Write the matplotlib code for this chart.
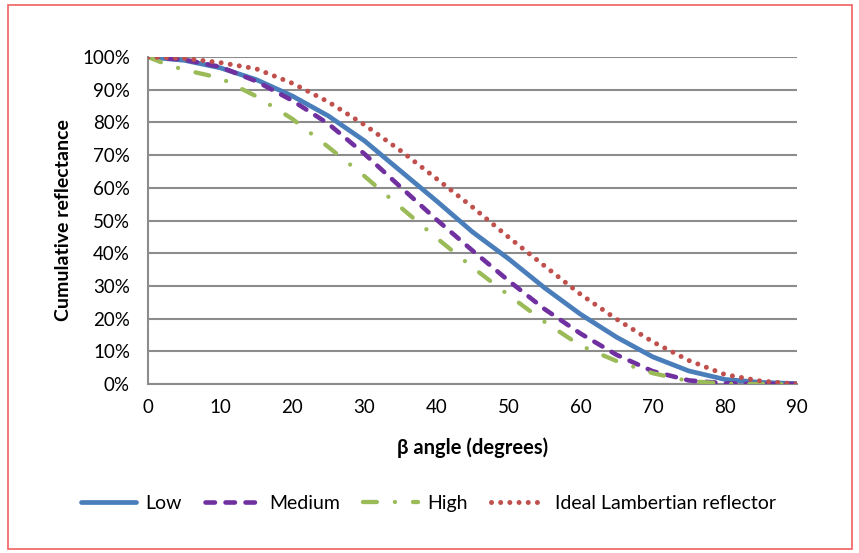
import matplotlib
matplotlib.use("Agg")
import matplotlib.pyplot as plt
from matplotlib.patches import Rectangle
from matplotlib.ticker import PercentFormatter

plt.rcParams["font.family"] = ["Lato", "DejaVu Sans"]
plt.rcParams["lines.scale_dashes"] = False

# Angle grid (degrees) and cumulative reflectance (%) for each surface
beta_deg = [0, 5, 10, 15, 20, 25, 30, 35, 40, 45, 50, 55, 60, 65, 70, 75, 80, 85, 90]
low = [100, 99.0, 96.7, 93.1, 88.1, 82.0, 74.4, 65.2, 56.0, 46.5, 38.3, 29.4,
       21.3, 14.3, 8.3, 4.0, 1.4, 0.5, 0.1]
medium = [100, 99.2, 97.0, 92.6, 86.7, 79.6, 70.4, 60.3, 50.3, 40.8, 31.6, 22.9,
          15.4, 8.9, 3.9, 1.1, 0.2, 0.0, 0.0]
high_beta = [0, 2.5, 5, 10, 15, 20, 25, 30, 35, 40, 45, 50, 55, 60, 65, 70, 75, 80, 85, 90]
high = [100, 97.8, 96.1, 93.6, 88.0, 81.1, 72.5, 63.6, 54.1, 44.7, 35.7, 27.2,
        19.0, 11.7, 7.0, 3.3, 0.9, 0.1, 0.0, 0.0]
lambertian = [100, 99.6, 98.3, 96.4, 92.0, 86.3, 79.3, 71.4, 62.8, 54.1, 44.9, 36.1,
              27.4, 19.8, 12.9, 7.2, 2.9, 0.9, 0.0]

x_ticks = list(range(0, 91, 10))
y_ticks = list(range(0, 101, 10))

fig = plt.figure(figsize=(8.59, 5.53), dpi=100)
ax = fig.add_axes([0.1723, 0.3056, 0.7555, 0.5913])

grid_c = "#8c8c8c"
ax.plot(beta_deg, low, color="#4a7ebb", lw=3.4, solid_capstyle="round", label="Low", zorder=3)
ax.plot(beta_deg, medium, color="#7030a0", lw=3.3, dashes=(6.8, 7.6),
        dash_capstyle="round", label="Medium", zorder=4)
ax.plot(high_beta, high, color="#9bbb59", lw=3.1, dashes=(10, 13, 0.01, 13),
        dash_capstyle="round", label="High", zorder=5)
ax.plot(beta_deg, lambertian, color="#c0504d", lw=3.6, dashes=(0.01, 6.6),
        dash_capstyle="round", label="Ideal Lambertian reflector", zorder=6)

ax.set_xlim(0, 90)
ax.set_ylim(0, 100)
ax.set_xticks(x_ticks)
ax.set_yticks(y_ticks)
ax.yaxis.set_major_formatter(PercentFormatter(decimals=0))
ax.tick_params(axis="both", length=0, labelsize=13.5, colors="black")
ax.tick_params(axis="y", pad=13)
ax.tick_params(axis="x", pad=11)

ax.grid(axis="y", color=grid_c, lw=1.5, zorder=1)
ax.set_axisbelow(True)
for side in ("top", "right"):
    ax.spines[side].set_visible(False)
for side in ("left", "bottom"):
    ax.spines[side].set_color(grid_c)
    ax.spines[side].set_linewidth(1.5)

ax.set_xlabel("β angle (degrees)", fontsize=14.5, fontweight="bold", labelpad=15)
ax.set_ylabel("Cumulative reflectance", fontsize=14, fontweight="bold", labelpad=7)

leg = fig.legend(loc="center", bbox_to_anchor=(0.4988, 0.0904), ncol=4, frameon=False,
                 fontsize=14, handlelength=2.85, handletextpad=0.45, columnspacing=1.2)

fig.patches.append(Rectangle((8 / 859, 1 - 549 / 553), 844 / 859, 544 / 553,
                             transform=fig.transFigure, fill=False,
                             edgecolor="#f06060", lw=1.2))

fig.savefig("out.png", dpi=100)
